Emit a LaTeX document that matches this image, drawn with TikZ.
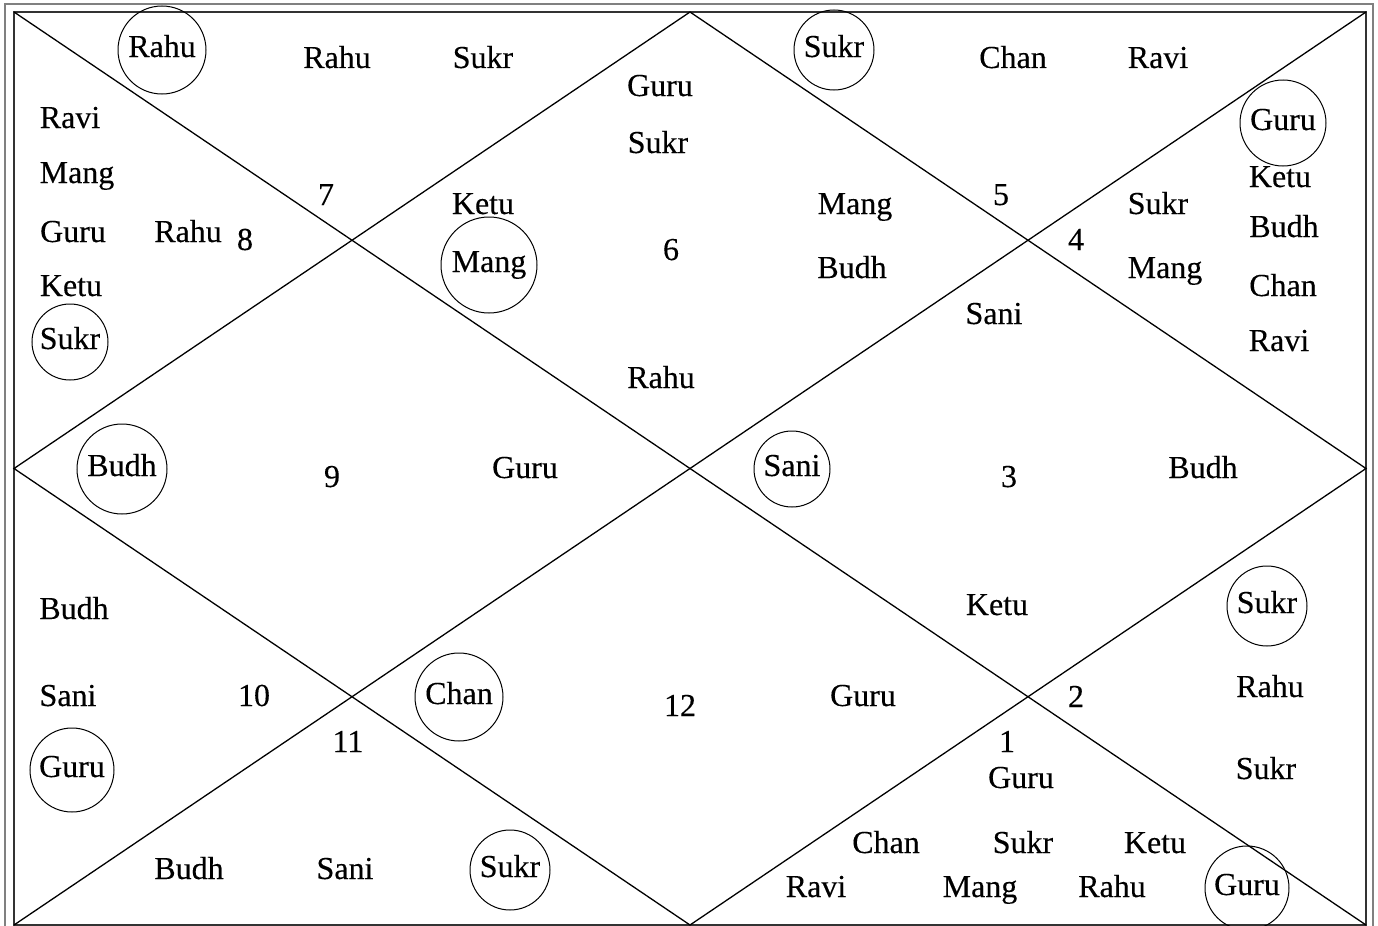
\documentclass[tikz,border=0pt]{standalone}
\usepackage{fontspec}
\setmainfont{Liberation Serif}[FakeBold=0.25]
\begin{document}
\begin{tikzpicture}[x=0.5pt,y=-0.5pt,
  font=\fontsize{16}{18}\selectfont,
  lbl/.style={inner sep=0pt,text height=0.8em,text depth=0.1em,yshift=-1pt},
  planet/.style={draw,circle,line width=0.5pt,inner sep=0pt,text height=0.8em,text depth=0.1em},
  grid/.style={line width=0.65pt,black}]
\useasboundingbox (0,0) rectangle (1378,926);
\fill[white] (0,0) rectangle (1378,926);
% frames
\draw[line width=1.1pt,black!50] (5,4) rectangle (1373,940);
\coordinate (tl) at (14,12);
\coordinate (tr) at (1366,12);
\coordinate (bl) at (14,925);
\coordinate (br) at (1366,925);
\coordinate (tm) at (690,12);
\coordinate (rm) at (1366,468.5);
\coordinate (bm) at (690,925);
\coordinate (lm) at (14,468.5);
\draw[line width=1.4pt,black!80] (tl) rectangle (br);
\draw[grid] (tl) -- (br);
\draw[grid] (bl) -- (tr);
\draw[grid] (tm) -- (rm) -- (bm) -- (lm) -- cycle;
% plain labels
\foreach \x/\y/\t [count=\i] in {
 337/59/Rahu, 483/59/Sukr, 70/119/Ravi, 77/174/Mang, 73/233/Guru, 188/233/Rahu,
 245/241/8, 326/196/7, 71/287/Ketu, 660/87/Guru, 658/144/Sukr, 483/205/Ketu,
 671/251/6, 661/379/Rahu, 855/205/Mang, 852/269/Budh, 1013/59/Chan, 1158/59/Ravi,
 1001/196/5, 1076/241/4, 1158/205/Sukr, 1165/269/Mang, 1280/178/Ketu, 1284/228/Budh,
 1283/287/Chan, 1279/342/Ravi, 994/315/Sani, 332/478/9, 525/469/Guru, 1009/478/3,
 1203/469/Budh, 74/610/Budh, 68/697/Sani, 254/697/10, 348/743/11, 189/870/Budh,
 345/870/Sani, 680/707/12, 863/697/Guru, 997/606/Ketu, 1270/688/Rahu, 1266/770/Sukr,
 1076/698/2, 1007/743/1, 1021/779/Guru, 886/844/Chan, 1023/844/Sukr, 1155/844/Ketu,
 816/888/Ravi, 980/888/Mang, 1112/888/Rahu}
 \node[lbl] (t\i) at (\x,\y) {\t};
% circled labels
\foreach \x/\y/\r/\t [count=\i] in {
 162/50/44/Rahu, 70/342/38/Sukr, 489/265/48/Mang, 834/50/40/Sukr,
 1283/123/43/Guru, 122/469/45/Budh, 792/469/38/Sani, 72/770/42/Guru,
 459/697/44/Chan, 510/870/40/Sukr, 1267/606/40/Sukr, 1247/888/42/Guru}
 \node[planet,minimum size=\r pt] (c\i) at (\x,\y) {\t};
\end{tikzpicture}
\end{document}
